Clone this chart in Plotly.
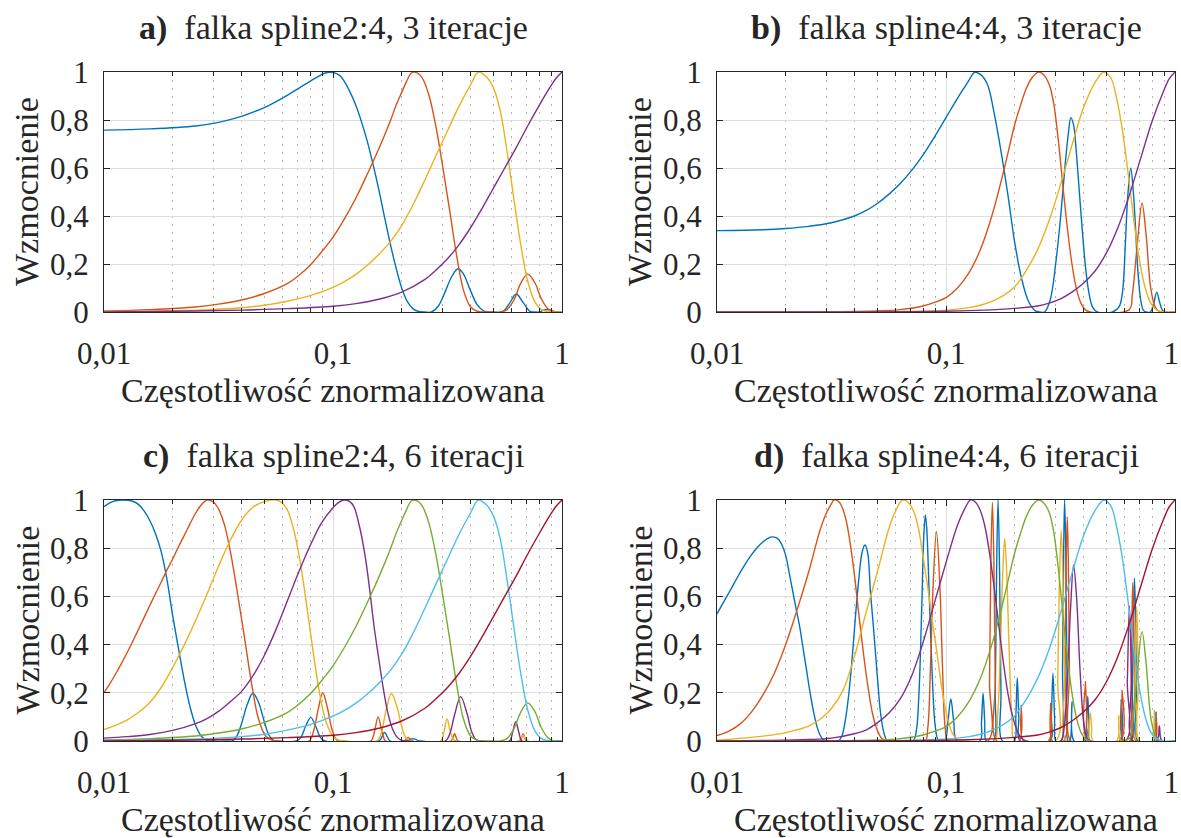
import plotly.graph_objects as go

# ---------------- colours (MATLAB default order) ----------------
C_BLUE, C_ORANGE, C_YELLOW, C_PURPLE = '#0072BD', '#D95319', '#EDB120', '#7E2F8E'
C_GREEN, C_CYAN, C_DRED = '#77AC30', '#4DBEEE', '#A2142F'

# ---------------- tick labels / texts ----------------
x_tickvals = [0.01, 0.1, 1]
x_ticktext = ['0,01', '0,1', '1']
x_ticktext_right = ['0,01', '0,1', '1&nbsp;']
x_minorvals = [0.02, 0.03, 0.04, 0.05, 0.06, 0.07, 0.08, 0.09,
               0.2, 0.3, 0.4, 0.5, 0.6, 0.7, 0.8, 0.9]
y_tickvals = [0, 0.2, 0.4, 0.6, 0.8, 1]
y_ticktext = ['0', '0,2', '0,4', '0,6', '0,8', '1']
titles = ['<b>a)</b>  falka spline2:4, 3 iteracje',
          '<b>b)</b>  falka spline4:4, 3 iteracje',
          '<b>c)</b>  falka spline2:4, 6 iteracji',
          '<b>d)</b>  falka spline4:4, 6 iteracji']
x_title = 'Częstotliwość znormalizowana'
y_title = 'Wzmocnienie'

# ============ spline2:4 detail bands (shared by panels a and c) ============
s2_d1_f = [0.01, 0.01995, 0.03981, 0.0631, 0.1, 0.1259, 0.1585, 0.1995, 0.2512, 0.2818, 0.3162,
           0.3548, 0.3981, 0.4467, 0.5012, 0.5623, 0.631, 0.7079, 0.7943, 0.8913, 0.9441, 1.0]
s2_d1_g = [0.0, 0.003, 0.008, 0.014, 0.024, 0.035, 0.053, 0.083, 0.135, 0.175, 0.222,
           0.28, 0.35, 0.43, 0.515, 0.6, 0.685, 0.775, 0.86, 0.94, 0.975, 1.0]

s2_d2_f = [0.01, 0.02512, 0.03981, 0.05012, 0.0631, 0.07943, 0.1, 0.1122, 0.1259, 0.1413, 0.1585,
           0.1778, 0.1995, 0.2239, 0.2512, 0.2818, 0.3162, 0.3548, 0.3981, 0.4315, 0.4677, 0.5012,
           0.537, 0.5754, 0.6166, 0.6607, 0.7079, 0.7586, 0.8128, 0.8913, 1.0]
s2_d2_g = [0.002, 0.008, 0.018, 0.028, 0.045, 0.068, 0.103, 0.127, 0.157, 0.195, 0.24,
           0.292, 0.36, 0.448, 0.548, 0.652, 0.755, 0.857, 0.945, 1.0, 0.98, 0.935,
           0.84, 0.67, 0.47, 0.28, 0.13, 0.045, 0.01, 0.0, 0.0]

s2_d3_f = [0.01, 0.01585, 0.02512, 0.03162, 0.03981, 0.05012, 0.0631, 0.07079, 0.07943, 0.08913,
           0.1, 0.1122, 0.1259, 0.1413, 0.1585, 0.1778, 0.1884, 0.1995, 0.2089, 0.2213, 0.2344,
           0.2455, 0.263, 0.2818, 0.302, 0.3236, 0.3467, 0.3715, 0.3981, 0.4266, 0.4571, 0.5012,
           0.537, 0.5754, 0.6166, 0.6607, 0.7079, 0.7586, 0.8128, 0.871, 0.9333, 1.0]
s2_d3_g = [0.004, 0.01, 0.021, 0.033, 0.05, 0.077, 0.118, 0.152, 0.195, 0.25,
           0.312, 0.388, 0.475, 0.575, 0.68, 0.795, 0.86, 0.915, 0.958, 0.998, 0.995,
           0.975, 0.9, 0.77, 0.6, 0.42, 0.235, 0.09, 0.022, 0.003, 0.0, 0.0,
           0.0, 0.01, 0.05, 0.12, 0.158, 0.125, 0.055, 0.012, 0.0, 0.0]

# ---------------- panel a: approximation band a3 ----------------
a_blue_f = [0.01, 0.01585, 0.02512, 0.03162, 0.03981, 0.05012, 0.05623, 0.0631, 0.07079, 0.07943,
            0.0871, 0.09333, 0.1, 0.1072, 0.1122, 0.1189, 0.1259, 0.1334, 0.1413, 0.1496, 0.1585,
            0.1679, 0.1778, 0.1884, 0.1995, 0.2113, 0.2239, 0.2371, 0.2512, 0.2692, 0.2884,
            0.309, 0.3311, 0.3516, 0.3715, 0.3981, 0.4266, 0.4571, 0.4898, 0.5495, 0.5888,
            0.631, 0.6761, 0.7244, 0.7586, 0.7943, 0.8318, 0.871, 0.912, 0.955, 1.0]
a_blue_g = [0.758, 0.763, 0.775, 0.79, 0.815, 0.852, 0.876, 0.903, 0.932, 0.961,
            0.984, 0.997, 0.998, 0.985, 0.96, 0.915, 0.86, 0.79, 0.71, 0.615, 0.51,
            0.395, 0.285, 0.185, 0.1, 0.043, 0.013, 0.002, 0.0, 0.0, 0.025,
            0.085, 0.15, 0.18, 0.158, 0.09, 0.03, 0.004, 0.0, 0.0, 0.035,
            0.075, 0.04, 0.003, 0.0, 0.0, 0.008, 0.01, 0.003, 0.0, 0.0]

# ---------------- panel c: bands a6, d6, d5, d4 ----------------
c_blue_f = [0.01, 0.01059, 0.01122, 0.0121, 0.01334, 0.01413, 0.01496, 0.01585, 0.01679, 0.01778,
            0.01884, 0.01995, 0.02113, 0.02239, 0.02371, 0.02512, 0.02661, 0.02818, 0.02985,
            0.03548, 0.0363, 0.03802, 0.03981, 0.04217, 0.04467, 0.04732, 0.05012, 0.05248,
            0.05495, 0.05754, 0.06918, 0.07244, 0.07586, 0.07998, 0.08414, 0.0881, 0.09226,
            0.1585, 0.1679, 0.1778, 0.2089, 0.2239, 0.2399, 1.0]
c_blue_g = [0.972, 0.988, 0.997, 1.0, 0.995, 0.982, 0.955, 0.915, 0.86, 0.785,
            0.67, 0.52, 0.385, 0.255, 0.145, 0.065, 0.02, 0.003, 0.0,
            0.0, 0.0, 0.02, 0.07, 0.15, 0.198, 0.16, 0.08, 0.025,
            0.003, 0.0, 0.0, 0.015, 0.06, 0.098, 0.06, 0.015, 0.0,
            0.0, 0.035, 0.0, 0.0, 0.01, 0.0, 0.0]

c_orange_f = [0.01, 0.01059, 0.01122, 0.01189, 0.01259, 0.01334, 0.01413, 0.01496, 0.01585,
              0.01679, 0.01778, 0.01884, 0.01995, 0.02113, 0.02239, 0.02371, 0.02512, 0.02661,
              0.02818, 0.02985, 0.03126, 0.0335, 0.03589, 0.03846, 0.04121, 0.04416, 0.04732,
              0.0507, 0.05433, 0.05754, 0.07852, 0.08222, 0.0861, 0.09016, 0.09441, 0.09886,
              0.1035, 0.1084, 0.1462, 0.1514, 0.1574, 0.1641, 0.1698, 0.2042, 0.2128, 0.2213,
              0.3273, 0.3396, 0.3524, 0.6531, 0.6761, 0.6998, 1.0]
c_orange_g = [0.2, 0.237, 0.277, 0.32, 0.365, 0.413, 0.462, 0.512, 0.562,
              0.612, 0.66, 0.71, 0.755, 0.805, 0.852, 0.9, 0.945, 0.98,
              1.0, 0.993, 0.972, 0.9, 0.77, 0.6, 0.42, 0.235, 0.09,
              0.022, 0.003, 0.0, 0.0, 0.04, 0.13, 0.2, 0.14, 0.05,
              0.005, 0.0, 0.0, 0.035, 0.1, 0.035, 0.0, 0.0, 0.015, 0.0,
              0.0, 0.03, 0.0, 0.0, 0.03, 0.0, 0.0]

c_yellow_f = [0.01, 0.01122, 0.01259, 0.01413, 0.01585, 0.01778, 0.01995, 0.02239, 0.02512,
              0.02818, 0.03162, 0.03548, 0.03981, 0.04467, 0.05012, 0.05623, 0.05957, 0.0631,
              0.06683, 0.07079, 0.07499, 0.07943, 0.08414, 0.08913, 0.09441, 0.1, 0.1059,
              0.1122, 0.1549, 0.1622, 0.1698, 0.1799, 0.1905, 0.1995, 0.2089, 0.2188, 0.2951,
              0.3055, 0.3148, 0.3251, 0.3365, 0.3467, 0.6457, 0.6761, 0.7079, 1.0]
c_yellow_g = [0.048, 0.065, 0.087, 0.118, 0.16, 0.222, 0.305, 0.398, 0.5,
              0.61, 0.725, 0.83, 0.915, 0.97, 0.993, 1.0, 0.99, 0.96,
              0.889, 0.78, 0.63, 0.46, 0.295, 0.155, 0.065, 0.02, 0.004,
              0.0, 0.0, 0.03, 0.12, 0.197, 0.14, 0.06, 0.01, 0.0, 0.0,
              0.04, 0.093, 0.04, 0.005, 0.0, 0.0, 0.025, 0.0, 0.0]

c_purple_f = [0.01, 0.01259, 0.01585, 0.01995, 0.02512, 0.02818, 0.03162, 0.03548, 0.03981,
              0.04467, 0.05012, 0.05623, 0.0631, 0.07079, 0.07943, 0.08913, 0.1, 0.1059, 0.1117,
              0.1175, 0.123, 0.1306, 0.138, 0.1445, 0.1514, 0.1585, 0.166, 0.1738, 0.182, 0.1905,
              0.1995, 0.2089, 0.309, 0.3236, 0.3388, 0.3609, 0.3846, 0.4027, 0.4217, 0.4416,
              0.5888, 0.6081, 0.6281, 0.6486, 0.6699, 1.0]
c_purple_g = [0.012, 0.018, 0.027, 0.044, 0.072, 0.093, 0.123, 0.162, 0.205,
              0.27, 0.355, 0.46, 0.58, 0.7, 0.81, 0.905, 0.968, 0.99, 1.0,
              0.995, 0.975, 0.889, 0.77, 0.63, 0.47, 0.34, 0.215, 0.115, 0.05, 0.016,
              0.003, 0.0, 0.0, 0.03, 0.105, 0.184, 0.115, 0.04, 0.005, 0.0,
              0.0, 0.035, 0.08, 0.035, 0.0, 0.0]

# ============ spline4:4 detail bands (shared by panels b and d) ============
s4_d1_f = [0.01, 0.1, 0.1585, 0.1995, 0.2512, 0.2818, 0.3162, 0.3548, 0.3981, 0.4467, 0.5012,
           0.5623, 0.631, 0.7079, 0.7943, 0.8913, 0.9441, 1.0]
s4_d1_g = [0.0, 0.003, 0.009, 0.015, 0.025, 0.037, 0.055, 0.083, 0.12, 0.17, 0.245,
           0.35, 0.485, 0.64, 0.795, 0.92, 0.972, 1.0]

s4_d2_f = [0.01, 0.03162, 0.0631, 0.1, 0.1259, 0.1413, 0.1585, 0.1778, 0.1995, 0.2239, 0.2512,
           0.2818, 0.3162, 0.3548, 0.3981, 0.4467, 0.4898, 0.5248, 0.5559, 0.5888, 0.6237,
           0.6607, 0.6998, 0.7413, 0.7852, 0.8318, 0.8913, 1.0]
s4_d2_g = [0.0, 0.0, 0.002, 0.008, 0.018, 0.028, 0.044, 0.068, 0.105, 0.172, 0.26,
           0.38, 0.53, 0.695, 0.85, 0.955, 1.0, 0.975, 0.89, 0.76, 0.58,
           0.385, 0.215, 0.1, 0.035, 0.009, 0.0, 0.0]

s4_d3_f = [0.01, 0.03162, 0.05012, 0.0631, 0.07943, 0.08913, 0.1, 0.1122, 0.1259, 0.1413, 0.1585,
           0.1778, 0.1995, 0.2113, 0.2239, 0.2371, 0.2535, 0.2661, 0.2818, 0.2951, 0.309, 0.3236,
           0.3388, 0.3548, 0.3715, 0.389, 0.4074, 0.4266, 0.631, 0.6516, 0.684, 0.7178, 0.7482,
           0.7834, 0.8222, 0.861, 1.0]
s4_d3_g = [0.0, 0.001, 0.004, 0.01, 0.025, 0.04, 0.06, 0.1, 0.163, 0.26, 0.4,
           0.58, 0.78, 0.86, 0.93, 0.975, 1.0, 0.99, 0.95, 0.87, 0.72, 0.53,
           0.35, 0.2, 0.095, 0.035, 0.008, 0.0, 0.01, 0.075, 0.28, 0.454, 0.32,
           0.1, 0.018, 0.0, 0.0]

# ---------------- panel b: approximation band a3 ----------------
b_blue_f = [0.01, 0.01585, 0.01995, 0.02512, 0.03162, 0.03981, 0.04467, 0.05012, 0.05623, 0.0631,
            0.07079, 0.07943, 0.08913, 0.1, 0.1122, 0.1202, 0.1259, 0.1330, 0.1413, 0.1514,
            0.1622, 0.1738, 0.1862, 0.1995, 0.2138, 0.2291, 0.2455, 0.257, 0.2692, 0.2851,
            0.302, 0.3162, 0.3311, 0.3428, 0.3508, 0.3606, 0.3690, 0.3802, 0.3945, 0.4074,
            0.4217, 0.4365, 0.4571, 0.533, 0.5688, 0.5893, 0.6081, 0.6207, 0.6407, 0.6577,
            0.6694, 0.6887, 0.7084, 0.727, 0.745, 0.78, 0.805, 0.832, 0.857, 0.88, 0.9, 1.0]
b_blue_g = [0.339, 0.343, 0.348, 0.357, 0.372, 0.4, 0.422, 0.452, 0.49, 0.535,
            0.59, 0.655, 0.73, 0.81, 0.89, 0.935, 0.965, 0.998, 0.99, 0.95,
            0.83, 0.67, 0.49, 0.29, 0.14, 0.045, 0.005, 0.0, 0.0, 0.05,
            0.21, 0.39, 0.61, 0.75, 0.81, 0.78, 0.69, 0.53, 0.33, 0.18,
            0.075, 0.02, 0.0, 0.0, 0.02, 0.08, 0.3, 0.47, 0.6, 0.5,
            0.384, 0.17, 0.05, 0.008, 0.0, 0.0, 0.03, 0.083, 0.04, 0.008, 0.0, 0.0]

# ---------------- panel d: bands a6, d6, d5, d4 ----------------
d_blue_f = [0.01, 0.01059, 0.01122, 0.01189, 0.01259, 0.01334, 0.01413, 0.01496, 0.01585, 0.01698,
            0.01738, 0.01799, 0.01862, 0.01928, 0.01995, 0.02065, 0.02138, 0.02213, 0.02291,
            0.02371, 0.02455, 0.0254, 0.0263, 0.02723, 0.02818, 0.02917, 0.0302, 0.03388,
            0.03508, 0.03631, 0.03758, 0.0389, 0.04027, 0.04169, 0.04295, 0.04427, 0.04552,
            0.04677, 0.04842, 0.05012, 0.05188, 0.0537, 0.05559, 0.07161, 0.07413, 0.07621,
            0.07834, 0.07998, 0.08128, 0.08241, 0.08453, 0.0871, 0.08954, 0.09226, 0.09441,
            0.09886, 0.1019, 0.105, 0.1081, 0.1117, 0.1406, 0.1429, 0.1452, 0.1476, 0.15,
            0.1614, 0.1641, 0.1663, 0.1688, 0.1714, 0.1738, 0.1766, 0.1986, 0.2018, 0.2048,
            0.2079, 0.2113, 0.2844, 0.2884, 0.2931, 0.2979, 0.302, 0.3184, 0.3228, 0.3266,
            0.3296, 0.3334, 0.3373, 0.3412, 0.3475, 0.3548, 0.3622, 0.4055, 0.4111, 0.4159,
            0.4207, 0.4266, 0.5715, 0.5821, 0.5929, 0.6427, 0.6516, 0.6577, 0.6653, 0.673,
            0.6792, 0.6887, 0.8091, 0.8265, 0.8453, 1.0]
d_blue_g = [0.527, 0.57, 0.612, 0.655, 0.697, 0.737, 0.772, 0.802, 0.826, 0.845,
            0.847, 0.845, 0.835, 0.81, 0.77, 0.7, 0.625, 0.55, 0.48,
            0.39, 0.3, 0.21, 0.13, 0.065, 0.025, 0.005, 0.0, 0.0,
            0.02, 0.085, 0.19, 0.34, 0.52, 0.68, 0.78, 0.813, 0.78,
            0.62, 0.45, 0.27, 0.11, 0.03, 0.0, 0.0, 0.04, 0.2,
            0.55, 0.85, 0.938, 0.88, 0.6, 0.27, 0.07, 0.005, 0.0,
            0.0, 0.08, 0.174, 0.08, 0.0, 0.0, 0.08, 0.198, 0.08, 0.0,
            0.0, 0.2, 0.7, 1.0, 0.7, 0.2, 0.0, 0.0, 0.1, 0.263,
            0.1, 0.0, 0.0, 0.1, 0.281, 0.1, 0.0, 0.0, 0.3, 0.8,
            1.0, 0.8, 0.3, 0.0, 0.0, 0.163, 0.0, 0.0, 0.08, 0.186,
            0.08, 0.0, 0.0, 0.17, 0.0, 0.0, 0.2, 0.5, 0.675, 0.5,
            0.2, 0.0, 0.0, 0.12, 0.0, 0.0]

d_orange_f = [0.01, 0.01122, 0.01259, 0.01413, 0.01585, 0.01778, 0.01995, 0.02239, 0.02512,
              0.02818, 0.02985, 0.03162, 0.03243, 0.03428, 0.03631, 0.03802, 0.03981, 0.04169,
              0.04365, 0.04571, 0.04786, 0.05012, 0.05248, 0.05495, 0.08091, 0.08318, 0.08551,
              0.0879, 0.09085, 0.09397, 0.09661, 0.09931, 0.1023, 0.1524, 0.1549, 0.1570,
              0.1594, 0.1618, 0.1641, 0.1667, 0.2084, 0.2133, 0.2183, 0.2805, 0.2862, 0.2917,
              0.3266, 0.3311, 0.335, 0.3385, 0.342, 0.3459, 0.3508, 0.3981, 0.4066, 0.4159,
              0.5781, 0.5875, 0.5970, 0.6339, 0.6427, 0.6486, 0.654, 0.6607, 0.6668, 0.6761,
              0.8166, 0.8299, 0.8433, 1.0]
d_orange_g = [0.023, 0.04, 0.07, 0.12, 0.19, 0.28, 0.4, 0.545, 0.7,
              0.875, 0.94, 0.985, 1.0, 0.99, 0.93, 0.83, 0.69, 0.52,
              0.36, 0.22, 0.11, 0.045, 0.01, 0.0, 0.0, 0.05, 0.3,
              0.65, 0.87, 0.65, 0.3, 0.05, 0.0, 0.0, 0.25, 0.75,
              0.99, 0.75, 0.25, 0.0, 0.0, 0.147, 0.0, 0.0, 0.156, 0.0,
              0.0, 0.3, 0.75, 0.93, 0.75, 0.3, 0.0, 0.0, 0.246, 0.0,
              0.0, 0.21, 0.0, 0.0, 0.2, 0.5, 0.657, 0.5, 0.2, 0.0,
              0.0, 0.097, 0.0, 0.0]

d_yellow_f = [0.01, 0.01585, 0.01995, 0.02512, 0.02818, 0.03162, 0.03548, 0.03981, 0.04467,
              0.05012, 0.05623, 0.06026, 0.06457, 0.06839, 0.07244, 0.07586, 0.07943, 0.08318,
              0.0871, 0.0912, 0.0955, 0.1, 0.1047, 0.1096, 0.1148, 0.1202, 0.1622, 0.1679,
              0.1730, 0.1770, 0.1804, 0.1841, 0.1884, 0.1941, 0.2009, 0.302, 0.3076, 0.3126,
              0.3186, 0.3243, 0.3296, 0.3357, 0.415, 0.4207, 0.4263, 0.4325, 0.4385, 0.5559,
              0.568, 0.5808, 0.6607, 0.6683, 0.6806, 0.6918, 0.7015, 0.7943, 0.8125, 0.8318, 1.0]
d_yellow_g = [0.003, 0.02, 0.035, 0.062, 0.09, 0.135, 0.21, 0.35, 0.53,
              0.7, 0.88, 0.955, 1.0, 0.99, 0.95, 0.88, 0.765, 0.64,
              0.5, 0.37, 0.23, 0.12, 0.05, 0.015, 0.002, 0.0, 0.0, 0.1,
              0.4, 0.7, 0.841, 0.7, 0.4, 0.1, 0.0, 0.0, 0.25, 0.65,
              0.875, 0.65, 0.25, 0.0, 0.0, 0.06, 0.116, 0.06, 0.0, 0.0,
              0.105, 0.0, 0.0, 0.25, 0.557, 0.25, 0.0, 0.0, 0.128, 0.0, 0.0]

d_purple_f = [0.01, 0.01585, 0.02512, 0.03162, 0.03981, 0.04467, 0.05012, 0.05623, 0.0631,
              0.07079, 0.07943, 0.08913, 0.1, 0.1122, 0.1202, 0.1279, 0.1349, 0.1413, 0.1479,
              0.1549, 0.1622, 0.1698, 0.1778, 0.1862, 0.195, 0.2042, 0.2138, 0.2239, 0.3162,
              0.3273, 0.3388, 0.3499, 0.3606, 0.3715, 0.3846, 0.3981, 0.4121, 0.4266, 0.6095,
              0.6194, 0.6324, 0.6457, 0.6561, 0.8318, 0.8544, 0.8770, 1.0]
d_purple_g = [0.0, 0.002, 0.006, 0.012, 0.03, 0.045, 0.075, 0.115, 0.175,
              0.27, 0.41, 0.575, 0.74, 0.895, 0.96, 1.0, 0.99, 0.955, 0.89,
              0.78, 0.64, 0.485, 0.33, 0.2, 0.105, 0.045, 0.012, 0.0, 0.0,
              0.05, 0.25, 0.55, 0.73, 0.6, 0.3, 0.09, 0.015, 0.0, 0.0,
              0.25, 0.56, 0.25, 0.0, 0.0, 0.062, 0.0, 0.0]

panels = [
    [(a_blue_f, a_blue_g, C_BLUE), (s2_d3_f, s2_d3_g, C_ORANGE),
     (s2_d2_f, s2_d2_g, C_YELLOW), (s2_d1_f, s2_d1_g, C_PURPLE)],
    [(b_blue_f, b_blue_g, C_BLUE), (s4_d3_f, s4_d3_g, C_ORANGE),
     (s4_d2_f, s4_d2_g, C_YELLOW), (s4_d1_f, s4_d1_g, C_PURPLE)],
    [(c_blue_f, c_blue_g, C_BLUE), (c_orange_f, c_orange_g, C_ORANGE),
     (c_yellow_f, c_yellow_g, C_YELLOW), (c_purple_f, c_purple_g, C_PURPLE),
     (s2_d3_f, s2_d3_g, C_GREEN), (s2_d2_f, s2_d2_g, C_CYAN), (s2_d1_f, s2_d1_g, C_DRED)],
    [(d_blue_f, d_blue_g, C_BLUE), (d_orange_f, d_orange_g, C_ORANGE),
     (d_yellow_f, d_yellow_g, C_YELLOW), (d_purple_f, d_purple_g, C_PURPLE),
     (s4_d3_f, s4_d3_g, C_GREEN), (s4_d2_f, s4_d2_g, C_CYAN), (s4_d1_f, s4_d1_g, C_DRED)],
]

W, H = 1181, 838
FONT = 'Liberation Serif, Times New Roman, serif'
TXT = '#262626'

# plot-area pixel boxes (left, right, top, bottom)
boxes = [(104, 562, 72, 312), (717, 1175, 72, 312), (104, 562, 500, 741), (717, 1175, 500, 741)]

fig = go.Figure()
for i, (curves, box) in enumerate(zip(panels, boxes)):
    n = '' if i == 0 else str(i + 1)
    for f, g, col in curves:
        fig.add_trace(go.Scatter(x=f, y=g, mode='lines',
                                 line=dict(color=col, width=1.4, shape='spline', smoothing=1.0),
                                 xaxis='x' + n, yaxis='y' + n, showlegend=False, hoverinfo='skip'))
    l, r, t, b = box
    common = dict(showline=True, linecolor=TXT, linewidth=1, mirror='ticks', ticks='inside',
                  tickcolor=TXT, ticklen=6, tickfont=dict(family=FONT, size=31, color=TXT),
                  showgrid=True, gridcolor='#dedede', gridwidth=1, zeroline=False,
                  automargin=False, ticklabeloverflow='allow')
    fig.update_layout({
        'xaxis' + n: dict(common, type='log', range=[-2, 0], domain=[l / W, r / W],
                          anchor='y' + n, tickvals=x_tickvals,
                          ticktext=x_ticktext if i in (0, 2) else x_ticktext_right,
                          ticklabelstandoff=14,
                          minor=dict(tickvals=x_minorvals, ticks='inside', ticklen=4, tickcolor=TXT,
                                     showgrid=True, gridcolor='#b4b4b4', griddash='2px,6px',
                                     gridwidth=1)),
        'yaxis' + n: dict(common, range=[0, 1], domain=[1 - b / H, 1 - t / H], anchor='x' + n,
                          tickvals=y_tickvals, ticktext=y_ticktext, ticklabelstandoff=8),
    })
    cx = (l + r) / 2
    fig.add_annotation(text=titles[i], x=cx / W, y=1 - (t - 44) / H, xref='paper', yref='paper',
                       showarrow=False, xanchor='center', yanchor='middle',
                       font=dict(family=FONT, size=34, color=TXT))
    fig.add_annotation(text=x_title, x=cx / W, y=1 - (b + 78) / H, xref='paper', yref='paper',
                       showarrow=False, xanchor='center', yanchor='middle',
                       font=dict(family=FONT, size=34, color=TXT))
    fig.add_annotation(text=y_title, x=(l - 77) / W, y=1 - (t + b) / 2 / H, xref='paper', yref='paper',
                       showarrow=False, xanchor='center', yanchor='middle', textangle=-90,
                       font=dict(family=FONT, size=34, color=TXT))

fig.update_layout(width=W, height=H, margin=dict(l=0, r=0, t=0, b=0, autoexpand=False),
                  paper_bgcolor='white', plot_bgcolor='white')
fig.write_html('out.html', config={'displayModeBar': False},
               post_script="document.body.style.margin='0';document.body.style.overflow='hidden';")
